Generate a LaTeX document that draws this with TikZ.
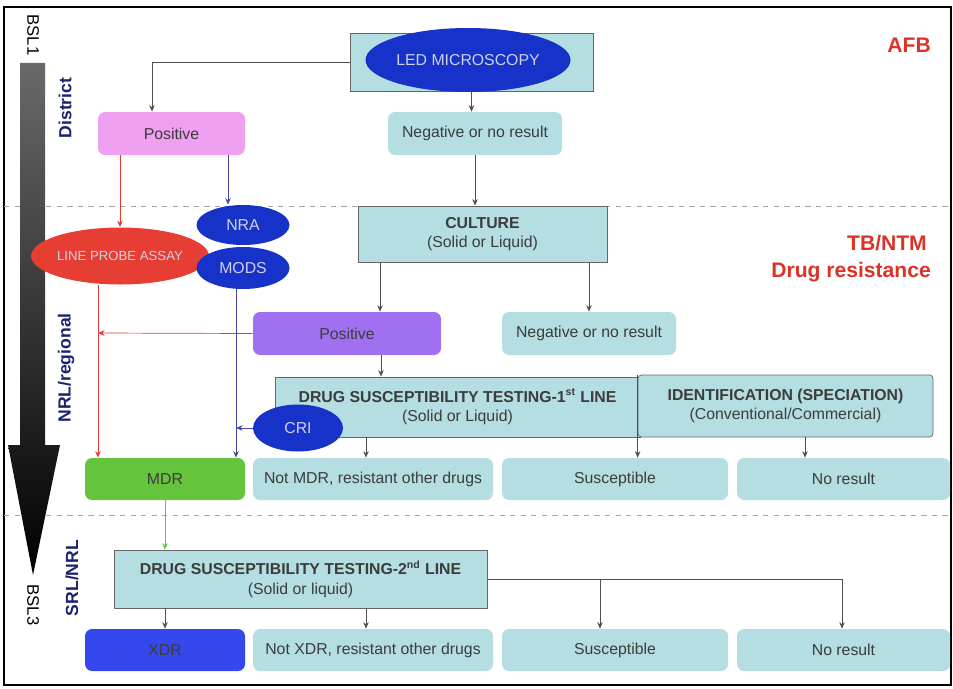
\documentclass[tikz,border=0pt]{standalone}
\usepackage{fontspec}
\setmainfont{Liberation Sans}
\usepackage{xcolor}
\usepackage{tikz}
\usetikzlibrary{arrows.meta, shapes.geometric, positioning}

\definecolor{tealbox}{RGB}{180,222,226}
\definecolor{pinkbox}{RGB}{240,160,240}
\definecolor{purplebox}{RGB}{160,112,240}
\definecolor{greenbox}{RGB}{100,196,60}
\definecolor{xdrblue}{RGB}{52,72,238}
\definecolor{ovalblue}{RGB}{22,50,200}
\definecolor{ovalred}{RGB}{230,62,50}
\definecolor{ovaltext}{RGB}{205,210,235}
\definecolor{txtgray}{RGB}{60,60,60}
\definecolor{linegray}{RGB}{80,80,80}
\definecolor{linered}{RGB}{225,60,50}
\definecolor{lineblue}{RGB}{70,70,160}
\definecolor{linegreen}{RGB}{90,200,60}
\definecolor{labelred}{RGB}{220,50,40}
\definecolor{navy}{RGB}{25,35,110}
\definecolor{shafttop}{RGB}{105,105,105}

\begin{document}
\begin{tikzpicture}[
    x=0.2mm, y=-0.2mm,
    font=\fontsize{9}{11}\selectfont,
    stepbox/.style={fill=tealbox, draw=gray!80!black, align=center, text=txtgray, inner sep=0pt},
    result/.style={fill=tealbox, rounded corners=4pt, minimum height=0.86cm, text=txtgray, inner sep=0pt},
    oval/.style={ellipse, fill=ovalblue, text=ovaltext, inner sep=0pt},
    zone/.style={font=\fontsize{10}{12}\selectfont\bfseries, text=navy},
    tag/.style={font=\fontsize{12}{14}\selectfont\bfseries, text=labelred, anchor=east},
    arr/.style={draw=linegray, -{Stealth[length=1.3mm,width=1.1mm]}},
    arrred/.style={draw=linered, -{Stealth[length=1.3mm,width=1.1mm]}},
    arrblue/.style={draw=lineblue, -{Stealth[length=1.3mm,width=1.1mm]}},
    arrgreen/.style={draw=linegreen, -{Stealth[length=1.3mm,width=1.1mm]}}
]

\useasboundingbox (0,0) rectangle (953,688);

% Frame and level separators
\draw[line width=1.2pt] (4,7) rectangle (951,685);
\draw[dashed, gray!70] (4,206) -- (951,206);
\draw[dashed, gray!70] (4,515) -- (951,515);

% Biosafety arrow on the left
\shade[top color=shafttop, bottom color=black]
    (20,63) -- (45,63) -- (45,445) -- (60,445) -- (33,575) -- (8,445) -- (20,445) -- cycle;
\node[rotate=-90, font=\fontsize{9.5}{11}\selectfont] (bsl1) at (33,35) {BSL1};
\node[rotate=-90, font=\fontsize{9.5}{11}\selectfont] (bsl3) at (33,605) {BSL3};

% Level labels
\node[zone, rotate=90] (district) at (65,108) {District};
\node[zone, rotate=90] (regional) at (66,368) {NRL/regional};
\node[zone, rotate=90] (srl) at (72,578) {SRL/NRL};

\node[tag] (afb) at (937,45) {AFB};
\node[tag] (tbntm) at (933,243) {TB/NTM};
\node[tag] (drugres) at (937,272) {Drug resistance};

% Microscopy level
\node[stepbox, minimum width=4.86cm, minimum height=1.16cm] (ledbox) at (471.5,62) {};
\node[oval, minimum width=4.1cm, minimum height=1.28cm] (led) at (468,60) {LED MICROSCOPY};

\node[result, fill=pinkbox, minimum width=2.94cm] (pos1) at (171.5,133.5) {Positive};
\node[result, minimum width=3.48cm] (neg1) at (475,133.5) {Negative or no result};

% Culture level
\node[stepbox, minimum width=4.98cm, minimum height=1.12cm] (culture) at (482.5,234)
    {\textbf{CULTURE}\\(Solid or Liquid)};

\node[oval, fill=ovalred, minimum width=2.7cm, minimum height=1.14cm,
      font=\fontsize{7.5}{9}\selectfont] (lpa) at (120,256) {LINE PROBE ASSAY};
\node[oval, minimum width=1.86cm, minimum height=0.8cm] (nra) at (243,225) {NRA};
\node[oval, minimum width=1.86cm, minimum height=0.84cm] (mods) at (243,268) {MODS};

\node[result, fill=purplebox, minimum width=3.76cm] (pos2) at (347,333.5) {Positive};
\node[result, minimum width=3.48cm] (neg2) at (589,333.5) {Negative or no result};

% First line testing and identification
\node[stepbox, minimum width=7.3cm, minimum height=1.2cm] (dst1) at (457.5,407)
    {\textbf{DRUG SUSCEPTIBILITY TESTING-1\textsuperscript{st} LINE}\\(Solid or Liquid)};
\node[stepbox, rounded corners=2pt, minimum width=5.9cm, minimum height=1.24cm] (ident) at (785.5,406)
    {\textbf{IDENTIFICATION (SPECIATION)}\\(Conventional/Commercial)};
\node[oval, minimum width=1.8cm, minimum height=0.94cm] (cri) at (298,428) {CRI};

\node[result, fill=greenbox, minimum width=3.2cm, minimum height=0.84cm] (mdr) at (165,479) {MDR};
\node[result, minimum width=4.8cm, minimum height=0.84cm] (notmdr) at (373,479) {Not MDR, resistant other drugs};
\node[result, minimum width=4.52cm, minimum height=0.84cm] (susc1) at (615,479) {Susceptible};
\node[result, minimum width=4.26cm, minimum height=0.84cm] (nores1) at (843.5,479) {No result};

% Second line testing
\node[stepbox, minimum width=7.46cm, minimum height=1.16cm] (dst2) at (300.5,579)
    {\textbf{DRUG SUSCEPTIBILITY TESTING-2\textsuperscript{nd} LINE}\\(Solid or liquid)};

\node[result, fill=xdrblue, minimum width=3.2cm, minimum height=0.84cm] (xdr) at (165,650) {XDR};
\node[result, minimum width=4.8cm, minimum height=0.84cm] (notxdr) at (373,650) {Not XDR, resistant other drugs};
\node[result, minimum width=4.52cm, minimum height=0.84cm] (susc2) at (615,650) {Susceptible};
\node[result, minimum width=4.26cm, minimum height=0.84cm] (nores2) at (843.5,650) {No result};

% Junctions on the side lines
\coordinate (redjoin) at (98,333);
\coordinate (bluejoin) at (236,428);

% Connectors
\draw[arr] (ledbox.west) -| ([xshift=-0.39cm]pos1.north);
\draw[arr] (ledbox.south) -- (ledbox.south |- neg1.north);
\draw[arr] (neg1.south) -- (neg1.south |- culture.north);

\draw[arrred] (pos1.south -| lpa.north) -- (lpa.north);
\draw[arrblue] ([xshift=-0.3cm]nra.north |- pos1.south) -- ([xshift=-0.3cm]nra.north);

\draw[arr] ([xshift=0.66cm]pos2.north |- culture.south) -- ([xshift=0.66cm]pos2.north);
\draw[arr] (neg2.north |- culture.south) -- (neg2.north);
\draw[arr] ([xshift=0.68cm]pos2.south) -- ([xshift=0.68cm]pos2.south |- dst1.north);

\draw[arrred] (redjoin |- lpa.south) -- (redjoin |- mdr.north);
\draw[arrred] (pos2.west) -- (redjoin);
\draw[arrblue] (bluejoin |- mods.south) -- (bluejoin |- mdr.north);
\draw[arrblue] (cri.west) -- (bluejoin);

\draw[arr] ([xshift=-0.14cm]notmdr.north |- dst1.south) -- ([xshift=-0.14cm]notmdr.north);
\draw[arr] (ident.north west) -- (ident.north west |- susc1.north);
\draw[arr] ([xshift=-0.77cm]nores1.north |- ident.south) -- ([xshift=-0.77cm]nores1.north);

\draw[arrgreen] (mdr.south) -- (mdr.south |- dst2.north);
\draw[arr] (xdr.north |- dst2.south) -- (xdr.north);
\draw[arr] ([xshift=-0.14cm]notxdr.north |- dst2.south) -- ([xshift=-0.14cm]notxdr.north);
\draw[arr] (dst2.east) -| ([xshift=-0.03cm]nores2.north);
\draw[arr] ([xshift=-0.3cm]susc2.north |- dst2.east) -- ([xshift=-0.3cm]susc2.north);

\end{tikzpicture}
\end{document}
